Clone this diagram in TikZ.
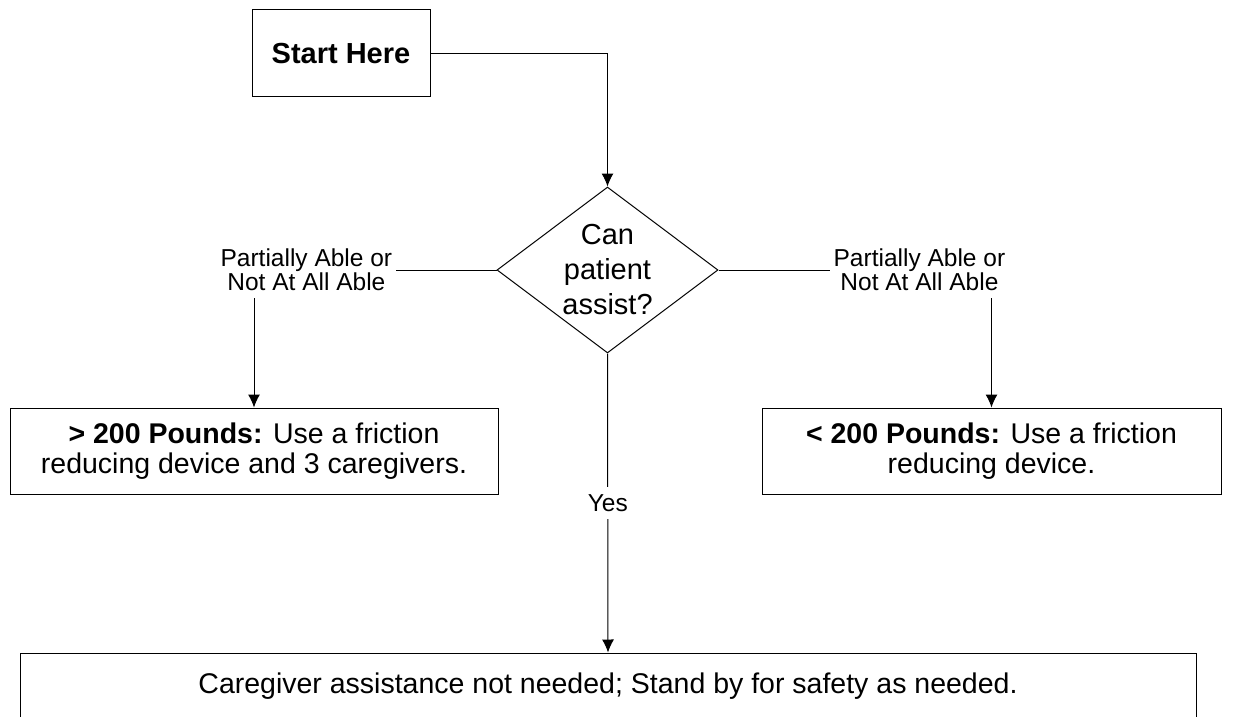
\documentclass[tikz,border=0pt]{standalone}
\usepackage{fontspec}
\setmainfont{Liberation Sans}
\usetikzlibrary{shapes.geometric,arrows.meta}
\begin{document}
\begin{tikzpicture}[x=1pt,y=-1pt,
  box/.style={draw=black, line width=1pt, inner sep=0pt, align=center},
  conn/.style={draw=black, line width=1pt, -{Latex[length=13pt,width=12pt]}},
  lbl/.style={fill=white, inner xsep=3.5pt, inner ysep=7pt, align=center, font=\fontsize{24.5}{24}\selectfont},
  txt/.style={font=\fontsize{28.5}{30}\selectfont}]
\useasboundingbox (0,0) rectangle (1251,717);
\clip (0,0) rectangle (1251,717);
\node[box, minimum width=178pt, minimum height=87pt, font=\fontsize{29}{30}\selectfont\bfseries] (start) at (341,53.5) {Start Here};
\node[draw=black, line width=1pt, diamond, minimum width=221pt, minimum height=166pt, inner sep=0pt] (dia) at (607.5,270) {};
\node[font=\fontsize{29}{35}\selectfont, align=center, inner sep=0pt] (q) at (dia.center) {Can\\patient\\assist?};
\node[box, minimum width=488pt, minimum height=86pt, txt] (lbox) at (254,451) {\textbf{> 200 Pounds:} Use a friction\\reducing device and 3 caregivers.};
\node[box, minimum width=459pt, minimum height=86pt, txt] (rbox) at (991.5,451) {\textbf{< 200 Pounds:} Use a friction\\reducing device.};
\node[box, minimum width=1176pt, minimum height=66pt, txt] (final) at (608,686) {Caregiver assistance not needed; Stand by for safety as needed.};
\draw[conn] (start.east) -| (dia.north);
\draw[conn] (dia.west) -| node[lbl, pos=0.392] (llab) {Partially Able or\\Not At All Able} (lbox.north);
\draw[conn] (dia.east) -| node[lbl, pos=0.368] (rlab) {Partially Able or\\Not At All Able} (rbox.north);
\draw[conn] (dia.south) -- node[lbl, pos=0.5] (ylab) {Yes} (final.north);
\end{tikzpicture}
\end{document}
